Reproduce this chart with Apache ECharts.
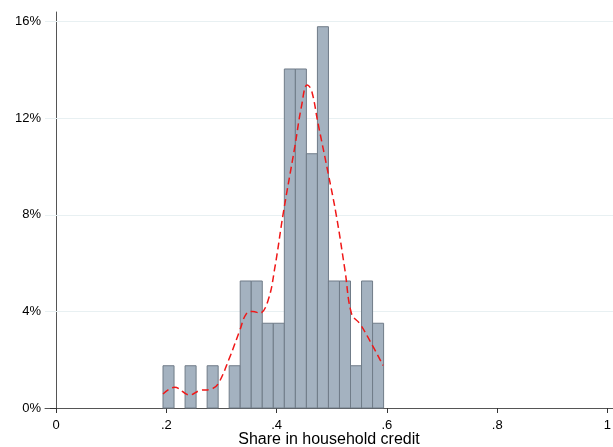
<!DOCTYPE html>
<html>
<head>
<meta charset="utf-8">
<script src="https://cdn.jsdelivr.net/npm/echarts@6/dist/echarts.min.js"></script>
<style>html,body{margin:0;padding:0;background:#fff}#c{width:613px;height:447px}</style>
</head>
<body>
<div id="c"></div>
<script>
// Histogram bins (share, left edge) and percent heights
const binStart = 0.194;
const binWidth = 0.02;
const binPercent = [1.75, 0, 1.75, 0, 1.75, 0, 1.75, 5.26, 5.26, 3.51, 3.51, 14.04, 14.04, 10.53, 15.79, 5.26, 5.26, 1.75, 5.26, 3.51];
// Kernel density curve, x share and density in percent units
const kdeX = [0.194, 0.215, 0.2425, 0.26, 0.282, 0.294, 0.315, 0.333, 0.345, 0.357, 0.3695, 0.3846, 0.397, 0.412, 0.433, 0.445, 0.4554, 0.463, 0.475, 0.4935, 0.5087, 0.524, 0.536, 0.551, 0.569, 0.593];
const kdeY = [0.58, 0.86, 0.54, 0.72, 0.79, 1.0, 2.1, 3.2, 3.9, 4.0, 3.93, 4.46, 5.84, 8.06, 10.82, 12.48, 13.38, 13.18, 11.8, 9.72, 7.92, 5.7, 3.9, 3.49, 2.79, 1.76];
const xTicks = [0, 0.2, 0.4, 0.6, 0.8, 1];
const yTicks = [0, 4, 8, 12, 16];

const bins = binPercent.map((h, i) => [binStart + i * binWidth, binStart + (i + 1) * binWidth, h]).filter(d => d[2] > 0);
const kde = kdeX.map((x, i) => [x, kdeY[i]]);

const chart = echarts.init(document.getElementById('c'));
const font = 'Liberation Sans, Arial, sans-serif';
chart.setOption({
  animation: false,
  grid: {left: 45, right: 0, top: 12, bottom: 39, containLabel: false, outerBoundsMode: 'none'},
  xAxis: {
    type: 'value', min: -0.02, max: 1.01,
    name: 'Share in household credit', nameLocation: 'middle', nameGap: 24, nameMoveOverlap: false,
    nameTextStyle: {fontFamily: font, fontSize: 16, color: '#000', verticalAlign: 'top'},
    axisLine: {show: true, onZero: false, lineStyle: {color: '#555', width: 1}},
    axisTick: {show: true, length: 5, customValues: xTicks, lineStyle: {color: '#333'}},
    axisLabel: {customValues: xTicks, fontFamily: font, fontSize: 13, color: '#000', margin: 11,
      formatter: v => (v === 0 ? '0' : v === 1 ? '1' : String(+v.toFixed(2)).replace(/^0\./, '.'))},
    splitLine: {show: false}
  },
  yAxis: {
    type: 'value', min: 0, max: 16.4,
    axisLine: {show: true, lineStyle: {color: '#555', width: 1}},
    axisTick: {show: true, length: 6, customValues: yTicks, lineStyle: {color: '#333'}},
    axisLabel: {customValues: yTicks, fontFamily: font, fontSize: 13, color: '#000', margin: 4,
      formatter: v => v + '%'},
    splitLine: {show: false}
  },
  series: [
    {
      type: 'line', data: [], z: 1,
      markLine: {
        silent: true, symbol: 'none', label: {show: false}, z: 1,
        lineStyle: {color: '#e8f0f2', type: 'solid', width: 1},
        data: yTicks.filter(v => v > 0).map(v => ({yAxis: v}))
      }
    },
    {
      type: 'custom',
      data: bins,
      renderItem: (params, api) => {
        const p0 = api.coord([api.value(0), api.value(2)]);
        const p1 = api.coord([api.value(1), 0]);
        return {type: 'rect', shape: {x: p0[0], y: p0[1], width: p1[0] - p0[0], height: p1[1] - p0[1]},
          style: {fill: '#a4b2c0', stroke: '#707c88', lineWidth: 1}};
      },
      z: 2
    },
    {
      type: 'line', data: kde, smooth: 0.4, showSymbol: false,
      lineStyle: {color: '#f01818', width: 1.5, type: [7, 4]},
      z: 3
    }
  ]
});
</script>
</body>
</html>
